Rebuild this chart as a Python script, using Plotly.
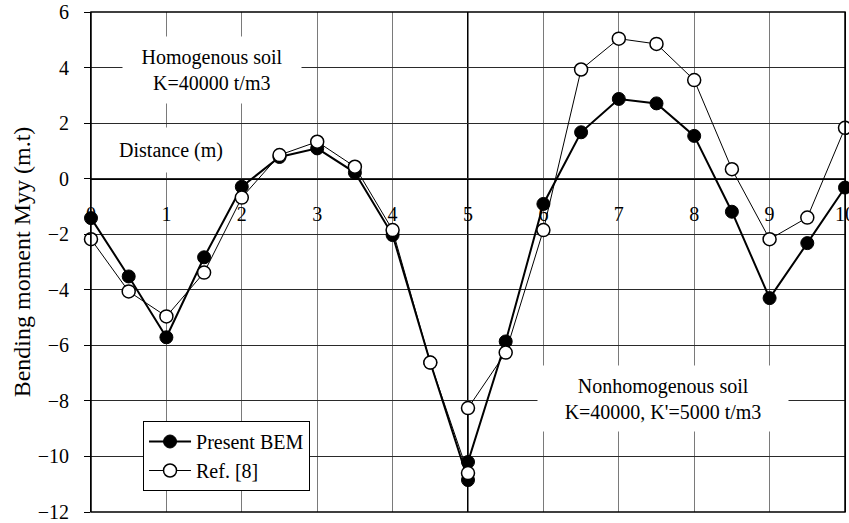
import plotly.graph_objects as go

# Distance (m) along the beam; x=5 appears twice (left / right side of the soil change)
distance = [0, 0.5, 1, 1.5, 2, 2.5, 3, 3.5, 4, 4.5, 5, 5, 5.5, 6, 6.5, 7, 7.5, 8, 8.5, 9, 9.5, 10]
present_bem = [-1.42, -3.52, -5.71, -2.83, -0.29, 0.78, 1.09, 0.22, -2.03, -6.62, -10.85, -10.2,
               -5.86, -0.91, 1.67, 2.87, 2.71, 1.54, -1.19, -4.30, -2.32, -0.32]
ref_8 = [-2.18, -4.06, -4.96, -3.38, -0.68, 0.85, 1.33, 0.43, -1.85, -6.62, -10.6, -8.26,
         -6.26, -1.85, 3.93, 5.04, 4.85, 3.55, 0.34, -2.18, -1.40, 1.83]

x_ticks = [0, 1, 2, 3, 4, 5, 6, 7, 8, 9, 10]
y_ticks = [-12, -10, -8, -6, -4, -2, 0, 2, 4, 6]

FONT = "Liberation Serif, Times New Roman, serif"

fig = go.Figure()
fig.add_trace(go.Scatter(
    x=distance, y=present_bem, name="Present BEM", mode="lines+markers", cliponaxis=False,
    line=dict(color="black", width=2),
    marker=dict(symbol="circle", size=13, color="black", line=dict(color="black", width=1)),
))
fig.add_trace(go.Scatter(
    x=distance, y=ref_8, name="Ref. [8]", mode="lines+markers", cliponaxis=False,
    line=dict(color="black", width=1),
    marker=dict(symbol="circle", size=13, color="white", line=dict(color="black", width=1.5)),
))

fig.update_layout(
    width=849, height=523,
    margin=dict(l=91, r=4, t=12, b=11),
    paper_bgcolor="white", plot_bgcolor="white",
    font=dict(family=FONT, size=20, color="black"),
    showlegend=True,
    legend=dict(
        x=0.069, y=0.182, xanchor="left", yanchor="top",
        bgcolor="white", bordercolor="black", borderwidth=1,
        font=dict(family=FONT, size=20, color="black"),
        tracegroupgap=0, itemwidth=42,
    ),
    xaxis=dict(
        range=[0, 10], tickvals=x_ticks, ticktext=[str(v) for v in x_ticks],
        anchor="free", position=12 / 18, automargin=False,
        showline=True, linecolor="black", linewidth=1,
        showgrid=True, gridcolor="#7a7a7a", gridwidth=1,
        zeroline=False, ticks="", ticklabelstandoff=17, ticklabeloverflow="allow",
        tickfont=dict(family=FONT, size=20, color="black"),
    ),
    yaxis=dict(
        range=[-12, 6], tickvals=y_ticks,
        showline=True, linecolor="black", linewidth=1, mirror=True,
        showgrid=True, gridcolor="#2a2a2a", gridwidth=1,
        zeroline=False, ticks="outside", ticklen=6, tickcolor="black",
        tickfont=dict(family=FONT, size=20, color="black"),
        ticklabelstandoff=11,
        title=dict(text="Bending moment Myy (m.t)", font=dict(family=FONT, size=24, color="black"), standoff=0),
        automargin=False,
    ),
    shapes=[
        dict(type="line", xref="x", yref="paper", x0=5, x1=5, y0=0, y1=1,
             line=dict(color="black", width=2), layer="below"),
        dict(type="rect", xref="paper", yref="paper", x0=0, x1=1, y0=0, y1=1,
             line=dict(color="black", width=1.5), layer="above"),
    ],
    annotations=[
        dict(x=1.605, y=3.91, xref="x", yref="y", text="Homogenous soil<br>K=40000 t/m3",
             showarrow=False, bgcolor="white", width=176, height=64, borderpad=1,
             font=dict(family=FONT, size=20, color="black")),
        dict(x=1.06, y=1.03, xref="x", yref="y", text="Distance (m)",
             showarrow=False, bgcolor="white", width=118, height=42, borderpad=1,
             font=dict(family=FONT, size=20, color="black")),
        dict(x=7.586, y=-7.93, xref="x", yref="y", text="Nonhomogenous soil<br>K=40000, K'=5000 t/m3",
             showarrow=False, bgcolor="white", width=248, height=63, borderpad=1,
             font=dict(family=FONT, size=20, color="black")),
    ],
)

fig.write_html("out.html", config={"displayModeBar": False},
               post_script="document.body.style.margin='0';document.body.style.overflow='hidden';")
